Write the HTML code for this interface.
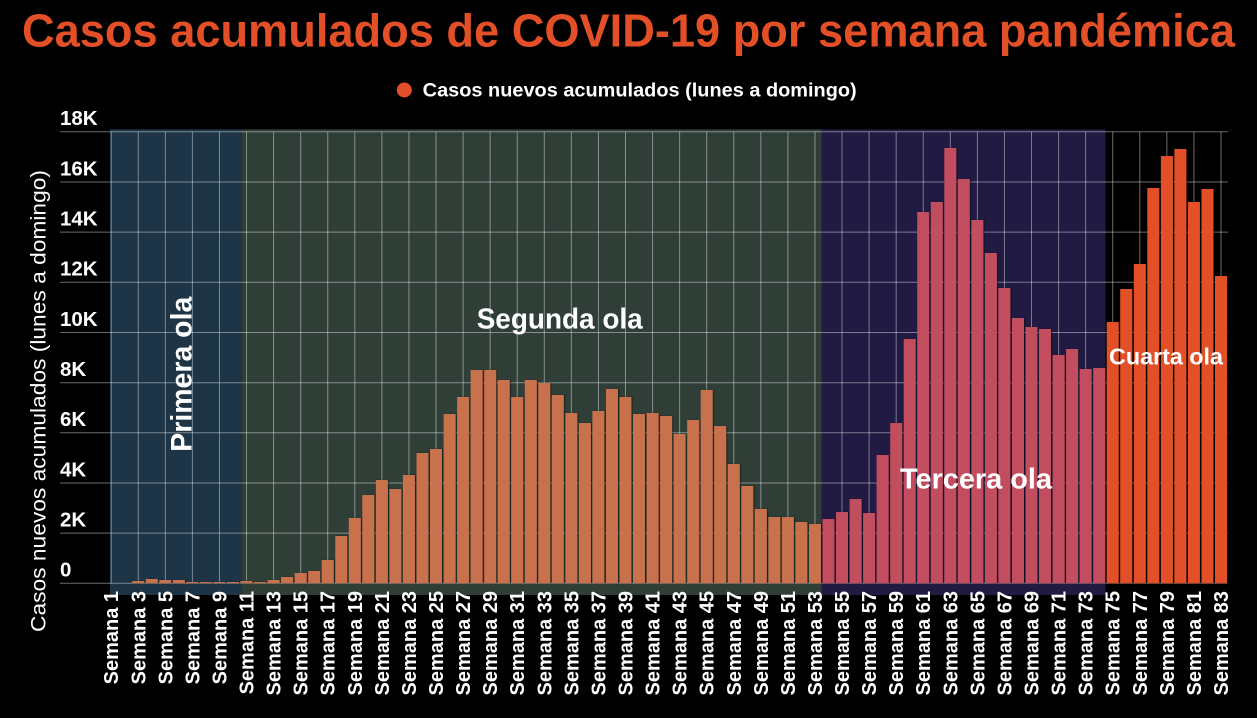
<!DOCTYPE html>
<html><head><meta charset="utf-8">
<style>
html,body{margin:0;padding:0;background:#000;}
svg{display:block;}
text{font-family:"Liberation Sans",sans-serif;}
</style></head>
<body>
<svg width="1257" height="718" viewBox="0 0 1257 718" xmlns="http://www.w3.org/2000/svg">
<defs>
<filter id="sh" x="-10%" y="-10%" width="130%" height="120%">
<feDropShadow dx="1" dy="0" stdDeviation="0.4" flood-color="#000" flood-opacity="0.55"/>
</filter>
</defs>
<rect x="0" y="0" width="1257" height="718" fill="#000"/>
<text x="22" y="46.7" font-size="46" font-weight="bold" fill="#e34f26" textLength="1213" lengthAdjust="spacingAndGlyphs">Casos acumulados de COVID-19 por semana pandémica</text>
<circle cx="404.3" cy="90" r="7.5" fill="#e34f26"/>
<text x="422.7" y="96.7" font-size="19.5" font-weight="bold" fill="#fff" textLength="434" lengthAdjust="spacingAndGlyphs">Casos nuevos acumulados (lunes a domingo)</text>

<!-- bands -->
<rect x="110" y="129.3" width="131.7" height="465.7" fill="#1d3546"/>
<rect x="241.7" y="129.3" width="580.1" height="465.7" fill="#2f3f37"/>
<rect x="821.8" y="129.3" width="283.7" height="465.7" fill="#211a42"/>

<!-- horizontal gridlines -->
<g stroke="rgba(255,255,255,0.42)" stroke-width="1">
<line x1="60" y1="583.3" x2="1228" y2="583.3"/>
<line x1="60" y1="533.1" x2="1228" y2="533.1"/>
<line x1="60" y1="483.0" x2="1228" y2="483.0"/>
<line x1="60" y1="432.8" x2="1228" y2="432.8"/>
<line x1="60" y1="382.7" x2="1228" y2="382.7"/>
<line x1="60" y1="332.5" x2="1228" y2="332.5"/>
<line x1="60" y1="282.3" x2="1228" y2="282.3"/>
<line x1="60" y1="232.1" x2="1228" y2="232.1"/>
<line x1="60" y1="182.0" x2="1228" y2="182.0"/>
<line x1="60" y1="131.8" x2="1228" y2="131.8"/>
</g>
<!-- vertical gridlines -->
<g stroke="rgba(255,255,255,0.42)" stroke-width="1">
<line x1="111.2" y1="131.8" x2="111.2" y2="583.3"/>
<line x1="138.27" y1="131.8" x2="138.27" y2="583.3"/>
<line x1="165.34" y1="131.8" x2="165.34" y2="583.3"/>
<line x1="192.4" y1="131.8" x2="192.4" y2="583.3"/>
<line x1="219.47" y1="131.8" x2="219.47" y2="583.3"/>
<line x1="246.54" y1="131.8" x2="246.54" y2="583.3"/>
<line x1="273.61" y1="131.8" x2="273.61" y2="583.3"/>
<line x1="300.68" y1="131.8" x2="300.68" y2="583.3"/>
<line x1="327.74" y1="131.8" x2="327.74" y2="583.3"/>
<line x1="354.81" y1="131.8" x2="354.81" y2="583.3"/>
<line x1="381.88" y1="131.8" x2="381.88" y2="583.3"/>
<line x1="408.95" y1="131.8" x2="408.95" y2="583.3"/>
<line x1="436.02" y1="131.8" x2="436.02" y2="583.3"/>
<line x1="463.08" y1="131.8" x2="463.08" y2="583.3"/>
<line x1="490.15" y1="131.8" x2="490.15" y2="583.3"/>
<line x1="517.22" y1="131.8" x2="517.22" y2="583.3"/>
<line x1="544.29" y1="131.8" x2="544.29" y2="583.3"/>
<line x1="571.36" y1="131.8" x2="571.36" y2="583.3"/>
<line x1="598.42" y1="131.8" x2="598.42" y2="583.3"/>
<line x1="625.49" y1="131.8" x2="625.49" y2="583.3"/>
<line x1="652.56" y1="131.8" x2="652.56" y2="583.3"/>
<line x1="679.63" y1="131.8" x2="679.63" y2="583.3"/>
<line x1="706.7" y1="131.8" x2="706.7" y2="583.3"/>
<line x1="733.76" y1="131.8" x2="733.76" y2="583.3"/>
<line x1="760.83" y1="131.8" x2="760.83" y2="583.3"/>
<line x1="787.9" y1="131.8" x2="787.9" y2="583.3"/>
<line x1="814.97" y1="131.8" x2="814.97" y2="583.3"/>
<line x1="842.04" y1="131.8" x2="842.04" y2="583.3"/>
<line x1="869.1" y1="131.8" x2="869.1" y2="583.3"/>
<line x1="896.17" y1="131.8" x2="896.17" y2="583.3"/>
<line x1="923.24" y1="131.8" x2="923.24" y2="583.3"/>
<line x1="950.31" y1="131.8" x2="950.31" y2="583.3"/>
<line x1="977.38" y1="131.8" x2="977.38" y2="583.3"/>
<line x1="1004.44" y1="131.8" x2="1004.44" y2="583.3"/>
<line x1="1031.51" y1="131.8" x2="1031.51" y2="583.3"/>
<line x1="1058.58" y1="131.8" x2="1058.58" y2="583.3"/>
<line x1="1085.65" y1="131.8" x2="1085.65" y2="583.3"/>
<line x1="1112.72" y1="131.8" x2="1112.72" y2="583.3"/>
<line x1="1139.78" y1="131.8" x2="1139.78" y2="583.3"/>
<line x1="1166.85" y1="131.8" x2="1166.85" y2="583.3"/>
<line x1="1193.92" y1="131.8" x2="1193.92" y2="583.3"/>
<line x1="1220.99" y1="131.8" x2="1220.99" y2="583.3"/>
</g>

<!-- bars -->
<g filter="url(#sh)">
<g fill="#c8714e">
<rect x="132.3" y="581" width="12" height="2.3"/>
<rect x="145.8" y="579" width="12" height="4.3"/>
<rect x="159.3" y="580" width="12" height="3.3"/>
<rect x="172.9" y="580" width="12" height="3.3"/>
<rect x="186.4" y="582" width="12" height="1.3"/>
<rect x="199.9" y="582" width="12" height="1.3"/>
<rect x="213.5" y="582" width="12" height="1.3"/>
<rect x="227.0" y="582" width="12" height="1.3"/>
<rect x="240.5" y="581" width="12" height="2.3"/>
<rect x="254.1" y="582" width="12" height="1.3"/>
<rect x="267.6" y="580" width="12" height="3.3"/>
<rect x="281.1" y="577" width="12" height="6.3"/>
<rect x="294.7" y="573" width="12" height="10.3"/>
<rect x="308.2" y="571" width="12" height="12.3"/>
<rect x="321.7" y="560" width="12" height="23.3"/>
<rect x="335.3" y="536" width="12" height="47.3"/>
<rect x="348.8" y="518" width="12" height="65.3"/>
<rect x="362.3" y="495" width="12" height="88.3"/>
<rect x="375.9" y="480" width="12" height="103.3"/>
<rect x="389.4" y="489" width="12" height="94.3"/>
<rect x="402.9" y="475" width="12" height="108.3"/>
<rect x="416.5" y="453" width="12" height="130.3"/>
<rect x="430.0" y="449" width="12" height="134.3"/>
<rect x="443.6" y="414" width="12" height="169.3"/>
<rect x="457.1" y="397" width="12" height="186.3"/>
<rect x="470.6" y="370" width="12" height="213.3"/>
<rect x="484.2" y="370" width="12" height="213.3"/>
<rect x="497.7" y="380" width="12" height="203.3"/>
<rect x="511.2" y="397" width="12" height="186.3"/>
<rect x="524.8" y="380" width="12" height="203.3"/>
<rect x="538.3" y="383" width="12" height="200.3"/>
<rect x="551.8" y="395" width="12" height="188.3"/>
<rect x="565.4" y="413" width="12" height="170.3"/>
<rect x="578.9" y="423" width="12" height="160.3"/>
<rect x="592.4" y="411" width="12" height="172.3"/>
<rect x="606.0" y="389" width="12" height="194.3"/>
<rect x="619.5" y="397" width="12" height="186.3"/>
<rect x="633.0" y="414" width="12" height="169.3"/>
<rect x="646.6" y="413" width="12" height="170.3"/>
<rect x="660.1" y="416" width="12" height="167.3"/>
<rect x="673.6" y="434" width="12" height="149.3"/>
<rect x="687.2" y="420" width="12" height="163.3"/>
<rect x="700.7" y="390" width="12" height="193.3"/>
<rect x="714.2" y="426" width="12" height="157.3"/>
<rect x="727.8" y="464" width="12" height="119.3"/>
<rect x="741.3" y="486" width="12" height="97.3"/>
<rect x="754.8" y="509" width="12" height="74.3"/>
<rect x="768.4" y="517" width="12" height="66.3"/>
<rect x="781.9" y="517" width="12" height="66.3"/>
<rect x="795.4" y="522" width="12" height="61.3"/>
<rect x="809.0" y="524" width="12" height="59.3"/>
</g>
<g fill="#c24d5e">
<rect x="822.5" y="519" width="12" height="64.3"/>
<rect x="836.0" y="512" width="12" height="71.3"/>
<rect x="849.6" y="499" width="12" height="84.3"/>
<rect x="863.1" y="513" width="12" height="70.3"/>
<rect x="876.6" y="455" width="12" height="128.3"/>
<rect x="890.2" y="423" width="12" height="160.3"/>
<rect x="903.7" y="339" width="12" height="244.3"/>
<rect x="917.2" y="212" width="12" height="371.3"/>
<rect x="930.8" y="202" width="12" height="381.3"/>
<rect x="944.3" y="148" width="12" height="435.3"/>
<rect x="957.8" y="179" width="12" height="404.3"/>
<rect x="971.4" y="220" width="12" height="363.3"/>
<rect x="984.9" y="253" width="12" height="330.3"/>
<rect x="998.4" y="288" width="12" height="295.3"/>
<rect x="1012.0" y="318" width="12" height="265.3"/>
<rect x="1025.5" y="327" width="12" height="256.3"/>
<rect x="1039.0" y="329" width="12" height="254.3"/>
<rect x="1052.6" y="355" width="12" height="228.3"/>
<rect x="1066.1" y="349" width="12" height="234.3"/>
<rect x="1079.6" y="369" width="12" height="214.3"/>
<rect x="1093.2" y="368" width="12" height="215.3"/>
</g>
<g fill="#e34f26">
<rect x="1106.7" y="322" width="12" height="261.3"/>
<rect x="1120.2" y="289" width="12" height="294.3"/>
<rect x="1133.8" y="264" width="12" height="319.3"/>
<rect x="1147.3" y="188" width="12" height="395.3"/>
<rect x="1160.9" y="156" width="12" height="427.3"/>
<rect x="1174.4" y="149" width="12" height="434.3"/>
<rect x="1187.9" y="202" width="12" height="381.3"/>
<rect x="1201.5" y="189" width="12" height="394.3"/>
<rect x="1215.0" y="276" width="12" height="307.3"/>
</g>
</g>

<!-- y tick labels -->
<g font-size="20.5" font-weight="bold" fill="#fff">
<text x="60" y="576.6">0</text>
<text x="60" y="526.4">2K</text>
<text x="60" y="476.3">4K</text>
<text x="60" y="426.1">6K</text>
<text x="60" y="376.0">8K</text>
<text x="60" y="325.8">10K</text>
<text x="60" y="275.6">12K</text>
<text x="60" y="225.4">14K</text>
<text x="60" y="175.3">16K</text>
<text x="60" y="125.1">18K</text>
</g>

<!-- y axis title -->
<text transform="translate(45.5,401) rotate(-90)" text-anchor="middle" font-size="21" fill="#fff" textLength="462" lengthAdjust="spacingAndGlyphs">Casos nuevos acumulados (lunes a domingo)</text>

<!-- wave labels -->
<g font-weight="bold" fill="#fff">
<text transform="translate(191.7,451.7) rotate(-90)" font-size="30" textLength="155" lengthAdjust="spacingAndGlyphs">Primera ola</text>
<text x="476.7" y="328.3" font-size="29" textLength="166" lengthAdjust="spacingAndGlyphs">Segunda ola</text>
<text x="900" y="488.3" font-size="29" textLength="152" lengthAdjust="spacingAndGlyphs">Tercera ola</text>
<text x="1109" y="364.3" font-size="23" textLength="114" lengthAdjust="spacingAndGlyphs">Cuarta ola</text>
</g>

<!-- x labels -->
<g font-size="20" font-weight="bold" fill="#fff" text-anchor="end">
<text transform="translate(118.2,591) rotate(-90)">Semana 1</text>
<text transform="translate(145.27,591) rotate(-90)">Semana 3</text>
<text transform="translate(172.34,591) rotate(-90)">Semana 5</text>
<text transform="translate(199.4,591) rotate(-90)">Semana 7</text>
<text transform="translate(226.47,591) rotate(-90)">Semana 9</text>
<text transform="translate(253.54,591) rotate(-90)">Semana 11</text>
<text transform="translate(280.61,591) rotate(-90)">Semana 13</text>
<text transform="translate(307.68,591) rotate(-90)">Semana 15</text>
<text transform="translate(334.74,591) rotate(-90)">Semana 17</text>
<text transform="translate(361.81,591) rotate(-90)">Semana 19</text>
<text transform="translate(388.88,591) rotate(-90)">Semana 21</text>
<text transform="translate(415.95,591) rotate(-90)">Semana 23</text>
<text transform="translate(443.02,591) rotate(-90)">Semana 25</text>
<text transform="translate(470.08,591) rotate(-90)">Semana 27</text>
<text transform="translate(497.15,591) rotate(-90)">Semana 29</text>
<text transform="translate(524.22,591) rotate(-90)">Semana 31</text>
<text transform="translate(551.29,591) rotate(-90)">Semana 33</text>
<text transform="translate(578.36,591) rotate(-90)">Semana 35</text>
<text transform="translate(605.42,591) rotate(-90)">Semana 37</text>
<text transform="translate(632.49,591) rotate(-90)">Semana 39</text>
<text transform="translate(659.56,591) rotate(-90)">Semana 41</text>
<text transform="translate(686.63,591) rotate(-90)">Semana 43</text>
<text transform="translate(713.7,591) rotate(-90)">Semana 45</text>
<text transform="translate(740.76,591) rotate(-90)">Semana 47</text>
<text transform="translate(767.83,591) rotate(-90)">Semana 49</text>
<text transform="translate(794.9,591) rotate(-90)">Semana 51</text>
<text transform="translate(821.97,591) rotate(-90)">Semana 53</text>
<text transform="translate(849.04,591) rotate(-90)">Semana 55</text>
<text transform="translate(876.1,591) rotate(-90)">Semana 57</text>
<text transform="translate(903.17,591) rotate(-90)">Semana 59</text>
<text transform="translate(930.24,591) rotate(-90)">Semana 61</text>
<text transform="translate(957.31,591) rotate(-90)">Semana 63</text>
<text transform="translate(984.38,591) rotate(-90)">Semana 65</text>
<text transform="translate(1011.44,591) rotate(-90)">Semana 67</text>
<text transform="translate(1038.51,591) rotate(-90)">Semana 69</text>
<text transform="translate(1065.58,591) rotate(-90)">Semana 71</text>
<text transform="translate(1092.65,591) rotate(-90)">Semana 73</text>
<text transform="translate(1119.72,591) rotate(-90)">Semana 75</text>
<text transform="translate(1146.78,591) rotate(-90)">Semana 77</text>
<text transform="translate(1173.85,591) rotate(-90)">Semana 79</text>
<text transform="translate(1200.92,591) rotate(-90)">Semana 81</text>
<text transform="translate(1227.99,591) rotate(-90)">Semana 83</text>
</g>
</svg>
</body></html>
